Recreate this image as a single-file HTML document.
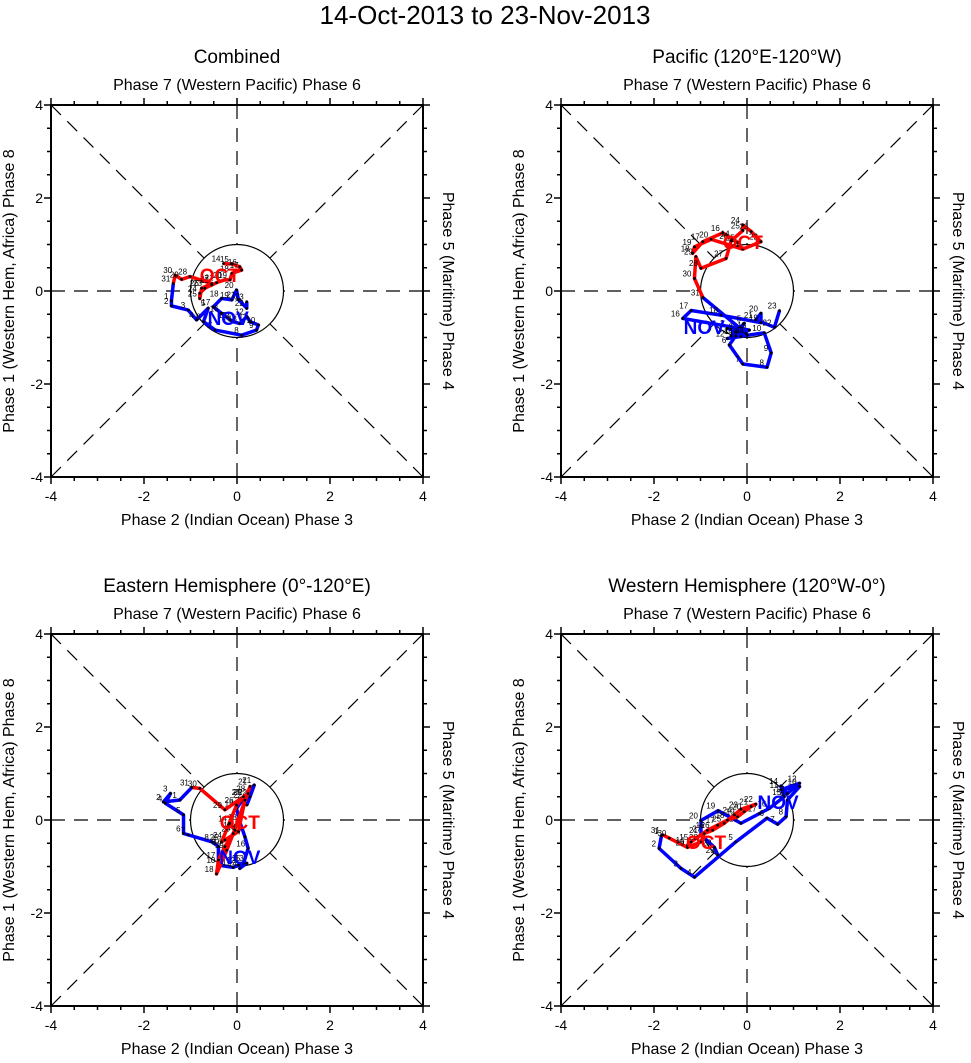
<!DOCTYPE html>
<html><head><meta charset="utf-8"><style>
body{margin:0;background:#fff;}
svg text{font-family:"Liberation Sans",Arial,sans-serif;}
</style></head><body>
<svg id="chart" width="971" height="1058" xmlns="http://www.w3.org/2000/svg">
<text x="485" y="24" font-size="26" text-anchor="middle">14-Oct-2013 to 23-Nov-2013</text>
</svg>
<script>
// ---- data (RMM1, RMM2) per panel ----
const panelTitles = ["Combined","Pacific (120°E-120°W)","Eastern Hemisphere (0°-120°E)","Western Hemisphere (120°W-0°)"];
const tickValues = [-4,-2,0,2,4];
const octDays = [14,15,16,17,18,19,20,21,22,23,24,25,26,27,28,29,30,31];
const novDays = [1,2,3,4,5,6,7,8,9,10,11,12,13,14,15,16,17,18,19,20,21,22,23];
// Combined
const p1OctX=[-0.29,-0.11,0.06,0.10,-0.11,-0.15,-0.26,-0.44,-0.54,-0.69,-0.80,-0.80,-0.76,-0.54,-1.01,-1.19,-1.33,-1.37];
const p1OctY=[0.59,0.58,0.52,0.45,0.38,0.24,0.24,0.18,0.13,0.06,-0.05,-0.16,0.06,0.16,0.31,0.25,0.34,0.16];
const p1NovX=[-1.41,-1.41,-1.05,-0.87,-0.62,-0.72,-0.47,0.10,0.42,0.46,0.28,0.21,0.06,-0.08,-0.15,-0.33,-0.51,-0.33,-0.11,-0.01,0.03,0.21,0.21];
const p1NovY=[-0.21,-0.32,-0.41,-0.62,-0.37,-0.66,-0.84,-0.95,-0.84,-0.73,-0.66,-0.55,-0.70,-0.66,-0.62,-0.48,-0.34,-0.16,-0.19,0.02,-0.18,-0.37,-0.23];
// Pacific
const p2OctX=[-0.31,-0.20,-0.52,-0.95,-1.17,-1.13,-0.77,-0.09,0.30,0.09,-0.09,-0.09,-0.34,-0.45,-0.99,-1.10,-1.13,-0.95];
const p2OctY=[1.13,1.04,1.25,1.06,0.81,0.95,1.11,0.90,1.06,1.28,1.42,1.30,1.08,0.70,0.49,0.74,0.27,-0.14];
const p2NovX=[-0.02,-0.42,-0.24,-0.34,-0.06,-0.38,-0.09,0.43,0.52,0.37,0.01,-0.42,-0.13,-0.24,0.05,-1.38,-1.20,-0.56,0.30,0.30,0.19,0.59,0.70];
const p2NovY=[-0.91,-0.80,-0.87,-0.97,-0.70,-1.16,-1.57,-1.64,-1.33,-0.90,-0.95,-1.02,-0.98,-0.97,-0.84,-0.59,-0.42,-0.52,-0.68,-0.48,-0.62,-0.78,-0.42];
// Eastern Hemisphere
const p3OctX=[-0.15,-0.04,-0.26,-0.40,-0.44,-0.22,-0.08,0.28,0.17,0.03,-0.26,-0.33,-0.01,0.14,0.24,-0.26,-0.80,-0.97];
const p3OctY=[-0.07,-0.22,-0.57,-0.86,-1.16,-0.65,-0.29,0.72,0.43,-0.25,-0.43,-0.47,0.32,0.50,0.57,0.22,0.68,0.70];
const p3NovX=[-1.23,-1.58,-1.43,-1.54,-1.15,-1.15,-1.05,-0.54,-0.40,-0.40,-0.08,0.03,0.21,0.06,0.14,0.24,0.17,0.06,-0.01,0.17,0.37,0.28,0.21];
const p3NovY=[0.43,0.39,0.57,0.36,0.11,-0.29,-0.32,-0.47,-0.57,-0.97,-1.02,-0.97,-0.93,-1.04,-0.93,-0.61,-0.36,-0.04,0.25,0.50,0.75,0.50,0.32];
// Western Hemisphere
const p4OctX=[-1.28,-1.20,-0.85,-0.63,-0.42,-0.20,-0.06,0.09,0.19,-0.13,-0.27,-0.49,-0.74,-0.92,-0.99,-1.28,-1.67,-1.81];
const p4OctY=[-0.54,-0.47,-0.22,-0.11,0.00,0.07,0.18,0.29,0.34,0.23,0.11,-0.07,-0.22,-0.29,-0.47,-0.59,-0.39,-0.32];
const p4NovX=[-1.84,-1.89,-1.42,-1.13,-0.24,0.43,0.66,0.84,0.87,1.13,0.73,1.13,0.87,0.73,0.80,0.48,0.27,-0.13,-0.62,-0.99,-0.99,-0.70,-0.63];
const p4NovY=[-0.34,-0.61,-1.04,-1.23,-0.47,0.04,-0.09,0.07,0.43,0.72,0.65,0.79,0.57,0.73,0.50,0.25,0.14,-0.07,0.20,-0.01,-0.32,-0.59,-0.75];
const octLabelX=[-0.37,-0.09,0.06,-0.88], octLabelY=[0.34,1.05,-0.04,-0.47];
const novLabelX=[-0.19,-0.92,0.06,0.67], novLabelY=[-0.58,-0.77,-0.80,0.39];

const panels=[
 {x0:51,y0:105,ox:p1OctX,oy:p1OctY,nx:p1NovX,ny:p1NovY,name:'combined'},
 {x0:561,y0:105,ox:p2OctX,oy:p2OctY,nx:p2NovX,ny:p2NovY,name:'pacific'},
 {x0:51,y0:634,ox:p3OctX,oy:p3OctY,nx:p3NovX,ny:p3NovY,name:'eastern-hemisphere'},
 {x0:561,y0:634,ox:p4OctX,oy:p4OctY,nx:p4NovX,ny:p4NovY,name:'western-hemisphere'}];
const W=372, NS='http://www.w3.org/2000/svg', svg=document.getElementById('chart');
function el(t,a,p){const e=document.createElementNS(NS,t);for(const k in a)e.setAttribute(k,a[k]);(p||svg).appendChild(e);return e;}
panels.forEach((P,i)=>{
 const g=el('g',{});
 
 
 const sx=v=>P.x0+(v+4)/8*W, sy=v=>P.y0+(4-v)/8*W;
 const cx=sx(0), cy=sy(0), r=W/8;
 const cxm=P.x0+W/2;
 let t=el('text',{x:cxm,y:P.y0-42,'font-size':19,'text-anchor':'middle'},g);t.textContent=panelTitles[i];
 
 t=el('text',{x:cxm,y:P.y0-15,'font-size':16,'text-anchor':'middle'},g);t.textContent='Phase 7 (Western Pacific) Phase 6';
 
 t=el('text',{x:cxm,y:P.y0+W+48,'font-size':16,'text-anchor':'middle'},g);t.textContent='Phase 2 (Indian Ocean) Phase 3';
 
 t=el('text',{x:0,y:0,'font-size':16,'text-anchor':'middle',transform:`translate(${P.x0-37},${cy}) rotate(-90)`},g);t.textContent='Phase 1 (Western Hem, Africa) Phase 8';
 
 t=el('text',{x:0,y:0,'font-size':16,'text-anchor':'middle',transform:`translate(${P.x0+W+20},${cy}) rotate(90)`},g);t.textContent='Phase 5 (Maritime) Phase 4';
 
 const d=r/Math.SQRT2, ds={stroke:'#000','stroke-width':1.2,'stroke-dasharray':'14,9',fill:'none'};
 [[P.x0,cy,cx-r,cy],[P.x0+W,cy,cx+r,cy],[cx,P.y0,cx,cy-r],[cx,P.y0+W,cx,cy+r],
  [P.x0,P.y0,cx-d,cy-d],[P.x0+W,P.y0,cx+d,cy-d],[P.x0,P.y0+W,cx-d,cy+d],[P.x0+W,P.y0+W,cx+d,cy+d]].forEach(l=>{
  const ln=el('line',Object.assign({x1:l[0],y1:l[1],x2:l[2],y2:l[3]},ds),g);
  });
 const c=el('circle',{cx:cx,cy:cy,r:r,fill:'none',stroke:'#000','stroke-width':1.2},g);
 
 const b=el('rect',{x:P.x0,y:P.y0,width:W,height:W,fill:'none',stroke:'#000','stroke-width':2},g);
 
 for(let v=-4;v<=4.001;v+=0.5){const maj=Math.abs(v%2)<0.01, L=maj?7:4;
  el('line',{x1:sx(v),y1:P.y0+W,x2:sx(v),y2:P.y0+W+L,stroke:'#000','stroke-width':1.5},g);
  el('line',{x1:sx(v),y1:P.y0,x2:sx(v),y2:P.y0-L,stroke:'#000','stroke-width':1.5},g);
  el('line',{x1:P.x0,y1:sy(v),x2:P.x0-L,y2:sy(v),stroke:'#000','stroke-width':1.5},g);
  el('line',{x1:P.x0+W,y1:sy(v),x2:P.x0+W+L,y2:sy(v),stroke:'#000','stroke-width':1.5},g);}
 tickValues.forEach(v=>{
  let a=el('text',{x:sx(v),y:P.y0+W+24,'font-size':14,'text-anchor':'middle'},g);a.textContent=v;
  
  a=el('text',{x:P.x0-8,y:sy(v)+5,'font-size':14,'text-anchor':'end'},g);a.textContent=v;
  });
 function series(X,Y,days,col,nm,prevX,prevY){
  let pts=X.map((x,k)=>sx(x)+','+sy(Y[k]));
  if(prevX!==undefined) pts.unshift(sx(prevX)+','+sy(prevY));
  const pl=el('polyline',{points:pts.join(' '),fill:'none',stroke:col,'stroke-width':3.5,'stroke-linejoin':'round'},g);
  
  X.forEach((x,k)=>{
   const dt=el('circle',{cx:sx(x),cy:sy(Y[k]),r:1.4,fill:'#000'},g);
   
   const lb=el('text',{x:sx(x)-3,y:sy(Y[k])-2,'font-size':8,'text-anchor':'end'},g);lb.textContent=days[k];
   });
 }
 series(P.nx,P.ny,novDays,'#00f','nov',P.ox[P.ox.length-1],P.oy[P.oy.length-1]);
 series(P.ox,P.oy,octDays,'#f00','oct');
 let m=el('text',{x:sx(octLabelX[i]),y:sy(octLabelY[i])+7,'font-size':19,'font-weight':'bold',fill:'#f00','text-anchor':'middle'},g);m.textContent='OCT';
 
 m=el('text',{x:sx(novLabelX[i]),y:sy(novLabelY[i])+7,'font-size':19,'font-weight':'bold',fill:'#00f','text-anchor':'middle'},g);m.textContent='NOV';
 
});
</script>
</body></html>
